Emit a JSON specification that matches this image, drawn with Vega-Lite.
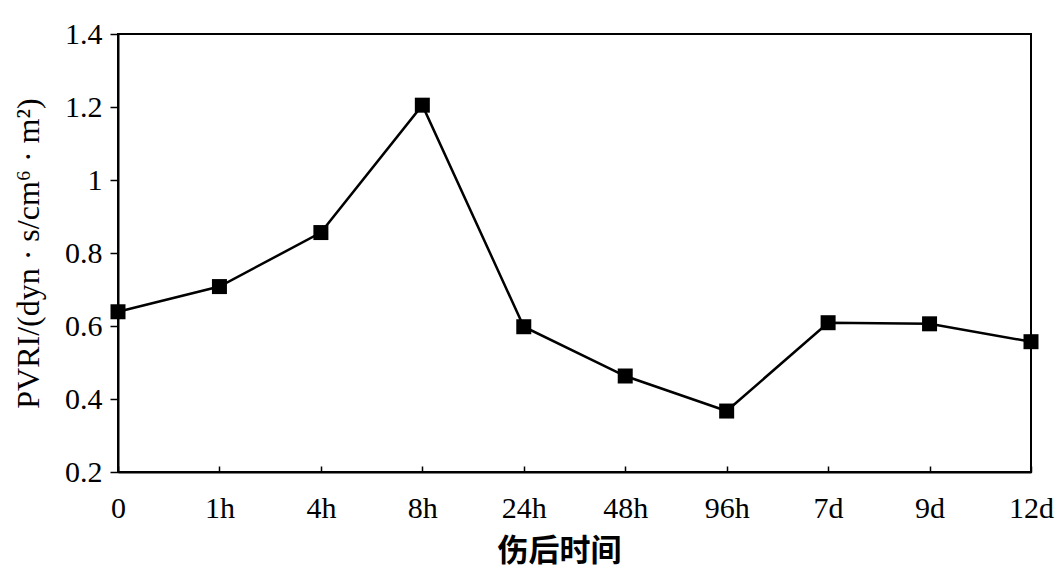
{
  "$schema": "https://vega.github.io/schema/vega-lite/v6.json",
  "autosize": "none",
  "width": 913,
  "height": 438,
  "padding": {"left": 118, "top": 34, "right": 29, "bottom": 102},
  "background": "white",
  "config": {
    "view": {"stroke": "black", "strokeWidth": 2},
    "font": "Liberation Serif"
  },
  "data": {
    "values": [
      {"time": "0", "pvri": 0.639},
      {"time": "1h", "pvri": 0.708},
      {"time": "4h", "pvri": 0.856},
      {"time": "8h", "pvri": 1.205},
      {"time": "24h", "pvri": 0.598},
      {"time": "48h", "pvri": 0.463},
      {"time": "96h", "pvri": 0.367},
      {"time": "7d", "pvri": 0.609},
      {"time": "9d", "pvri": 0.606},
      {"time": "12d", "pvri": 0.557}
    ]
  },
  "encoding": {
    "x": {
      "field": "time",
      "type": "ordinal",
      "sort": null,
      "scale": {"type": "point", "padding": 0},
      "axis": {
        "title": "伤后时间",
        "titleFont": "Noto Sans CJK SC",
        "titleFontWeight": "bold",
        "titleFontSize": 31,
        "titleColor": "black",
        "titlePadding": 13,
        "titleX": 441,
        "labelFont": "Liberation Serif",
        "labelFontSize": 30,
        "labelColor": "black",
        "labelAngle": 0,
        "labelPadding": 27,
        "labelFlush": false,
        "labelOverlap": false,
        "tickSize": -6,
        "tickColor": "black",
        "tickWidth": 1.5,
        "domainColor": "black",
        "domainWidth": 2,
        "grid": false
      }
    },
    "y": {
      "field": "pvri",
      "type": "quantitative",
      "scale": {"domain": [0.2, 1.4], "nice": false, "zero": false},
      "axis": {
        "title": "PVRI/(dyn · s/cm⁶ · m²)",
        "titleFont": "Liberation Serif",
        "titleFontWeight": "normal",
        "titleFontSize": 32,
        "titleColor": "black",
        "titlePadding": 19,
        "values": [0.2, 0.4, 0.6, 0.8, 1.0, 1.2, 1.4],
        "format": "~g",
        "labelFont": "Liberation Serif",
        "labelFontSize": 30,
        "labelColor": "black",
        "labelPadding": 8,
        "labelFlush": false,
        "tickSize": 8,
        "tickColor": "black",
        "tickWidth": 1.5,
        "domainColor": "black",
        "domainWidth": 2,
        "grid": false
      }
    }
  },
  "layer": [
    {"mark": {"type": "line", "color": "black", "strokeWidth": 2.5}},
    {"mark": {"type": "point", "shape": "square", "filled": true, "color": "black", "size": 225, "opacity": 1}}
  ]
}
